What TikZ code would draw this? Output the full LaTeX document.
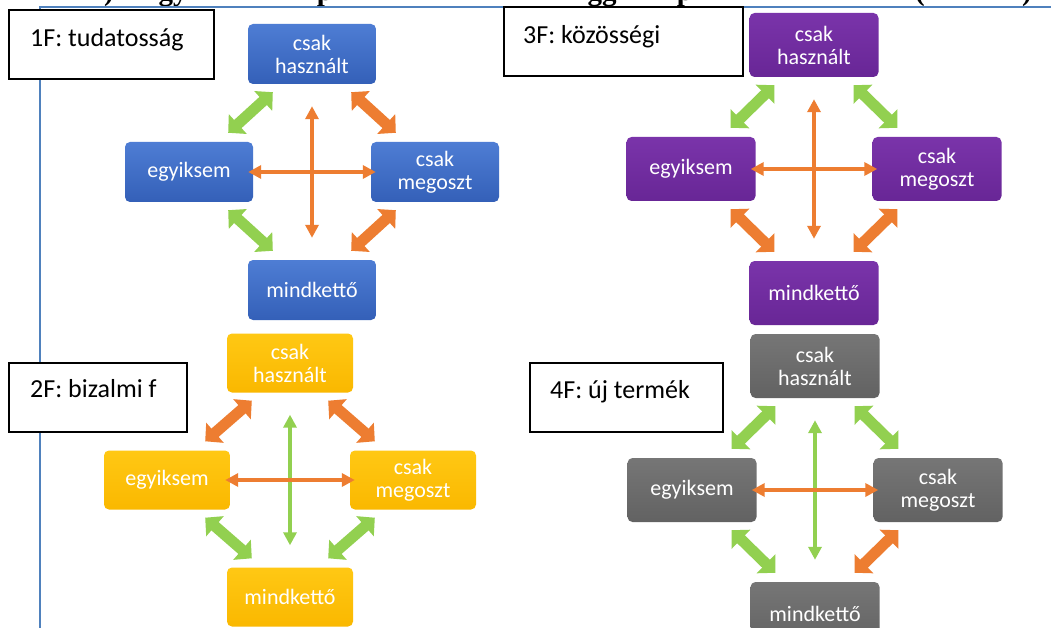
\documentclass[tikz,border=0pt]{standalone}
\usepackage{fontspec}
\setmainfont{Carlito}
\newfontfamily\titlefont{Liberation Serif}
\usetikzlibrary{arrows.meta,calc}
\definecolor{lineblue}{RGB}{79,129,189}
\definecolor{greenA}{RGB}{146,208,80}
\definecolor{orangeA}{RGB}{237,125,49}
\definecolor{blueTop}{RGB}{78,125,212}
\definecolor{blueBot}{RGB}{52,96,184}
\definecolor{purpTop}{RGB}{122,52,170}
\definecolor{purpBot}{RGB}{104,38,150}
\definecolor{yelTop}{RGB}{255,200,20}
\definecolor{yelBot}{RGB}{250,184,0}
\definecolor{grayTop}{RGB}{118,118,118}
\definecolor{grayBot}{RGB}{98,98,98}
\tikzset{
  qbox/.style={rounded corners=5pt, text=white, align=center, inner sep=0pt,
    font=\fontsize{22}{23}\selectfont},
  bluebox/.style={qbox, top color=blueTop, bottom color=blueBot, minimum width=128pt, minimum height=60pt},
  purpbox/.style={qbox, top color=purpTop, bottom color=purpBot, minimum width=129pt, minimum height=64pt},
  yelbox/.style={qbox, top color=yelTop, bottom color=yelBot, minimum width=126pt, minimum height=59pt},
  graybox/.style={qbox, top color=grayTop, bottom color=grayBot, minimum width=129pt, minimum height=64pt},
  thickarrow/.style={line width=11pt, {Triangle[width=26pt,length=13pt]}-{Triangle[width=26pt,length=13pt]}},
  thinarrow/.style={line width=3.5pt, {Triangle[width=13pt,length=13pt]}-{Triangle[width=13pt,length=13pt]}},
  labelbox/.style={draw=black, line width=1.6pt, fill=white, inner sep=0pt, anchor=north west},
  labeltext/.style={font=\fontsize{26}{28}\selectfont, anchor=base west, inner sep=0pt},
  titlefrag/.style={font=\titlefont\bfseries\fontsize{29}{30}\selectfont, anchor=base, inner sep=0pt}
}
% #1 prefix, #2 cx, #3 cy, #4 dy, #5 box style, #6 TL, #7 TR, #8 BL, #9 BR ; \vcol vertical colour
\newcommand\drawgrid[9]{%
  \node[#5] (#1h) at (#2,#3-#4) {csak\\használt};
  \node[#5] (#1e) at (#2-123,#3) {egyiksem};
  \node[#5] (#1m) at (#2+123,#3) {csak\\megoszt};
  \node[#5] (#1k) at (#2,#3+#4) {mindkettő};
  \draw[thickarrow,#6] ($(#1h.south west)+(25,8)$) -- ($(#1e.north east)+(-25,-9)$);
  \draw[thickarrow,#7] ($(#1h.south east)+(-25,8)$) -- ($(#1m.north west)+(25,-9)$);
  \draw[thickarrow,#8] ($(#1e.south east)+(-25,8)$) -- ($(#1k.north west)+(25,-9)$);
  \draw[thickarrow,#9] ($(#1m.south west)+(25,8)$) -- ($(#1k.north east)+(-25,-9)$);
  \draw[thinarrow,\vcol] ($(#1h.south)+(0,22)$) -- ($(#1k.north)+(0,-22)$);
  \draw[thinarrow,orangeA,shorten <=-5pt,shorten >=-5pt] (#1e.east) -- (#1m.west);
}
\begin{document}
\begin{tikzpicture}[x=1pt,y=-1pt]
\useasboundingbox (0,0) rectangle (1051,628);
\clip (0,0) rectangle (1051,628);
\fill[white] (0,0) rectangle (1051,628);
% cut-off title fragments
\node[titlefrag] (f1) at (109,1) {)};
\node[titlefrag] (f2) at (173,1) {gy};
\node[titlefrag] (f3) at (325,1) {p};
\node[titlefrag] (f4) at (602,1) {gg};
\node[titlefrag] (f5) at (685,1) {p};
\node[titlefrag] (f6) at (920,1) {(};
\node[titlefrag] (f7) at (1027,1) {)};
% page frame lines
\coordinate (lc) at (40,7);
\coordinate (lr) at (1051,7);
\coordinate (lb) at (40,628);
\draw[lineblue, line width=1.5pt] (lr) -- (lc) -- (lb);
% quadrants
\def\vcol{orangeA}
\drawgrid{a}{312}{172}{118}{bluebox}{greenA}{orangeA}{greenA}{orangeA}
\def\vcol{orangeA}
\drawgrid{c}{814}{169}{124}{purpbox}{greenA}{greenA}{orangeA}{orangeA}
\def\vcol{greenA}
\drawgrid{b}{290}{480}{117}{yelbox}{orangeA}{orangeA}{greenA}{greenA}
\def\vcol{greenA}
\drawgrid{d}{815}{490}{124}{graybox}{greenA}{greenA}{greenA}{orangeA}
% label boxes
\node[labelbox, minimum width=205pt, minimum height=69pt] (L1) at (8,9) {};
\node[labeltext] (T1) at (30,47) {1F: tudatosság};
\node[labelbox, minimum width=239pt, minimum height=69pt] (L3) at (503,6) {};
\node[labeltext] (T3) at (523,44) {3F: közösségi};
\node[labelbox, minimum width=178pt, minimum height=69pt] (L2) at (8,362) {};
\node[labeltext] (T2) at (30,397) {2F: bizalmi f};
\node[labelbox, minimum width=193pt, minimum height=69pt] (L4) at (529,362) {};
\node[labeltext] (T4) at (550,398) {4F: új termék};
\end{tikzpicture}
\end{document}
